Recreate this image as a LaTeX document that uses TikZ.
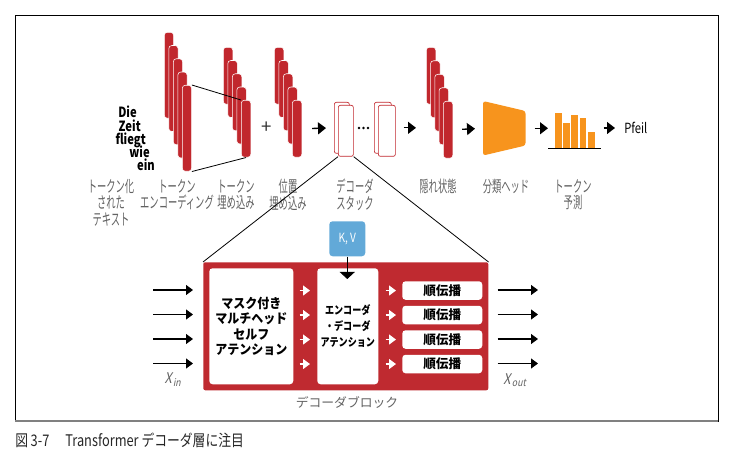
\documentclass[tikz,border=0pt]{standalone}
\usepackage{fontspec}
\setmainfont{Noto Sans CJK JP}
\newfontfamily\condfont[FakeStretch=0.8]{Noto Sans CJK JP}
\newfontfamily\labelfont[FakeStretch=0.58]{Noto Sans CJK JP}
\newfontfamily\boxfont[FakeStretch=0.9]{Noto Sans CJK JP}
\newfontfamily\slantfont[FakeSlant=0.2,FakeStretch=0.85]{Noto Sans CJK JP}
\usepackage{xcolor}
\usetikzlibrary{arrows.meta,positioning}
\definecolor{barred}{HTML}{C1272D}
\definecolor{blockred}{HTML}{BF2A30}
\definecolor{headorange}{HTML}{F7941D}
\definecolor{kvblue}{HTML}{62A9D8}
\definecolor{labelgray}{HTML}{626262}

\begin{document}
\begin{tikzpicture}[x=0.75pt, y=-0.75pt,
  bar/.style={fill=barred, draw=white, line width=0.4pt, rounded corners=2.3pt,
    inner sep=0pt, anchor=north west},
  encbar/.style={bar, minimum width=7pt, minimum height=64.5pt},
  embbar/.style={bar, minimum width=7.2pt, minimum height=42.75pt},
  decbox/.style={draw=barred, fill=white, line width=0.5pt, rounded corners=1.5pt,
    inner sep=0pt, anchor=north west, minimum height=38.25pt},
  inbox/.style={fill=white, rounded corners=2.5pt, inner sep=0pt,
    anchor=north west, align=center},
  flow/.style={-{Triangle[length=6pt,width=9pt]}, line width=1pt},
  inflow/.style={-{Triangle[length=5.25pt,width=7.5pt]}, line width=0.8pt},
  wflow/.style={-{Triangle[length=5.25pt,width=7.5pt]}, white, line width=0.9pt},
  word/.style={font=\condfont\bfseries\fontsize{10.5}{12}\selectfont,
    inner sep=0pt, anchor=base east},
  lbl/.style={font=\labelfont\fontsize{12}{12.4}\selectfont, text=labelgray,
    align=center, inner sep=0pt, anchor=north}]
% --- Frame and caption ---
\useasboundingbox (0,0) rectangle (740,459);
\draw[line width=0.6pt] (15,15) rectangle (718,421);
\draw[line width=1.1pt, black!50] (15,421) -- (718,421);
\node[anchor=west, inner sep=0pt, font=\condfont\fontsize{12}{13}\selectfont,
  text=black!85] (caption) at (15,440) {図\,3-7\quad Transformer デコーダ層に注目};

% --- Tokenized text ---
\node[word] (w1) at (137,118) {Die};
\node[word] (w2) at (141,131.5) {Zeit};
\node[word] (w3) at (146,144.5) {fliegt};
\node[word] (w4) at (150,158) {wie};
\node[word] (w5) at (155,171) {ein};

% --- Token encodings and embeddings ---
\foreach \i in {1,...,5}
  \node[encbar] (enc\i) at ({164+(\i-1)*4.5}, {32+(\i-1)*13.25}) {};
\foreach \i in {1,...,5}
  \node[embbar] (emb\i) at ({223+(\i-1)*4.5}, {47+(\i-1)*13.25}) {};
\draw[line width=0.6pt] (enc5.north east) -- (emb5.north west);
\draw[line width=0.6pt] (enc5.south east) -- (emb5.south);

% Positional embeddings
\node[font=\fontsize{14}{14}\selectfont, text=black!80, inner sep=0pt] (plus)
  at (267,128) {+};
\foreach \i in {1,...,5}
  \node[embbar] (pos\i) at ({274+(\i-1)*4.5}, {47+(\i-1)*13.25}) {};

% --- Decoder stack ---
\node[decbox, minimum width=11.25pt] (dec1b) at (334,102) {};
\node[decbox, minimum width=11.25pt] (dec1) at (338,105) {};
\node[decbox, minimum width=12.75pt] (dec2b) at (374,102) {};
\node[decbox, minimum width=12.75pt] (dec2) at (378,105) {};
\foreach \dx in {359,363.5,368}
  \fill (\dx,128) circle (1pt);
\draw[flow, shorten <=7.5pt, shorten >=6pt] (pos5.east) -- (dec1b.west);

% --- Hidden states, head, prediction ---
\foreach \i in {1,...,5}
  \node[embbar] (hid\i) at ({426+(\i-1)*4.25}, {47+(\i-1)*13.5}) {};
\draw[flow, shorten <=6pt, shorten >=7.5pt]
  (dec2.east |- dec2b.east) -- (dec2b.east -| hid1.west);

\node[inner sep=0pt, minimum width=31.5pt, minimum height=40.5pt,
  anchor=north west] (head) at (483,101) {};
\fill[headorange, rounded corners=2pt] (head.north west)
  -- ([yshift=-7.5pt]head.north east) -- ([yshift=7.5pt]head.south east)
  -- (head.south west) -- cycle;
\draw[flow, shorten <=6.75pt, shorten >=6pt] (hid5.east) -- (head.west);

\node[inner sep=0pt, minimum width=39pt, minimum height=26.25pt,
  anchor=south west] (pred) at (548,148) {};
\foreach \bx/\by in {555/113, 563/123, 571/115, 579.5/118, 588/132}
  \fill[headorange] (\bx,148) rectangle ++(6.5,{\by-148});
\draw[line width=0.7pt] (pred.south west) -- (pred.south east);
\draw[flow, shorten <=6.75pt] (head.east) -- (head.east -| pred.west);
\node[anchor=west, inner sep=0pt, font=\condfont\fontsize{10.5}{12}\selectfont]
  (pfeil) at (624,128) {Pfeil};
\draw[flow, shorten <=2.25pt, shorten >=6.75pt] (pred.east |- pfeil.west) -- (pfeil.west);

% Labels
\node[lbl] (toktxt) at (111,179) {トークン化\\された\\テキスト};
\node[lbl] (tokenc) at (177,179) {トークン\\エンコーディング};
\node[lbl] (tokemb) at (236,179) {トークン\\埋め込み};
\node[lbl] (posemb) at (288,179) {位置\\埋め込み};
\node[lbl] (decst) at (355,179) {デコーダ\\スタック};
\node[lbl] (hidst) at (438,179) {隠れ状態};
\node[lbl] (clshead) at (506,179) {分類ヘッド};
\node[lbl] (tokpred) at (573,179) {トークン\\予測};

% --- Decoder block ---
\node[fill=blockred, rounded corners=1.5pt, inner sep=0pt, minimum width=213.75pt,
  minimum height=96pt, anchor=north west] (block) at (203,262) {};
\draw[line width=0.6pt] (dec1.south west) -- (block.north west);
\draw[line width=0.6pt] (dec1.south east) -- (block.north east);

\node[inbox, minimum width=63pt, minimum height=87pt,
  font=\boxfont\bfseries\fontsize{10}{11.6}\selectfont] (msa) at (209,268)
  {マスク付き\\マルチヘッド\\セルフ\\アテンション};
\node[inbox, minimum width=45.75pt, minimum height=87pt,
  font=\condfont\bfseries\fontsize{8.5}{12}\selectfont] (eda) at (317,268)
  {エンコーダ\\・デコーダ\\アテンション};
\foreach \i in {1,...,4}
  \node[inbox, minimum width=60pt, minimum height=13.9pt,
    font=\bfseries\fontsize{9.5}{10}\selectfont] (ffn\i) at (402, {281+(\i-1)*24.5}) {順伝播};

\node[fill=kvblue, rounded corners=2.5pt, inner sep=0pt, minimum width=27pt,
  minimum height=26.25pt, anchor=north west, text=white,
  font=\condfont\fontsize{9.5}{10}\selectfont] (kv) at (329,221) {K, V};
\draw[-{Triangle[length=5.25pt,width=11.25pt]}, line width=0.6pt]
  (kv.south) -- ([yshift=-8.25pt]kv.south |- eda.north);

% Inputs, outputs and inner arrows
\foreach \i in {1,...,4} {
  \coordinate (in\i) at (153, {290+(\i-1)*24.5});
  \coordinate (out\i) at (538, {290+(\i-1)*24.5});
  \draw[inflow, shorten >=7.5pt] (in\i) -- (in\i -| block.west);
  \draw[inflow, shorten <=6.75pt] (out\i -| block.east) -- (out\i);
  \draw[wflow, shorten <=4.5pt, shorten >=5.25pt] (msa.east |- ffn\i) -- (eda.west |- ffn\i);
  \draw[wflow, shorten <=5.25pt, shorten >=4.5pt] (eda.east |- ffn\i) -- (ffn\i.west);
}
\node[font=\slantfont\fontsize{11}{12}\selectfont, text=labelgray, inner sep=0pt]
  (xin) at (173,380) {X\kern1pt\textsubscript{in}};
\node[font=\slantfont\fontsize{11}{12}\selectfont, text=labelgray, inner sep=0pt]
  (xout) at (515,380) {X\kern1pt\textsubscript{out}};
\node[font=\fontsize{9.6}{11}\selectfont, text=labelgray, inner sep=0pt]
  (blocklbl) at (347,402) {デコーダブロック};
\end{tikzpicture}
\end{document}
